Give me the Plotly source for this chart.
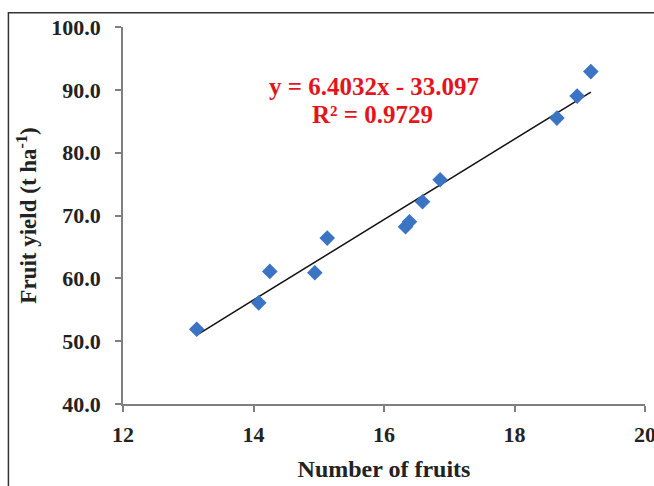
import plotly.graph_objects as go

# Fruit count vs. yield observations
fruit_number = [13.13, 14.08, 14.25, 14.94, 15.13, 16.33, 16.39, 16.59, 16.86, 18.65, 18.96, 19.17]
fruit_yield = [51.9, 56.1, 61.1, 60.9, 66.4, 68.2, 69.0, 72.2, 75.7, 85.5, 89.0, 92.9]

# Linear trend coefficients
slope = 6.4032
intercept = -33.097
r_squared = 0.9729

x_ticks = [12, 14, 16, 18, 20]
y_ticks = [40, 50, 60, 70, 80, 90, 100]

trend_x = [min(fruit_number), max(fruit_number)]
trend_y = [slope * v + intercept for v in trend_x]

font_family = "Liberation Serif, Times New Roman, serif"

fig = go.Figure()
fig.add_trace(go.Scatter(
    x=trend_x, y=trend_y, mode="lines",
    line=dict(color="#111111", width=1.5), showlegend=False, hoverinfo="skip",
))
fig.add_trace(go.Scatter(
    x=fruit_number, y=fruit_yield, mode="markers",
    marker=dict(symbol="diamond", size=12, color="#3A74C3"),
    showlegend=False,
))

axis_common = dict(
    showgrid=False, zeroline=False, showline=True, linecolor="#7f7f7f", linewidth=1.5,
    ticks="outside", ticklen=6, tickcolor="#7f7f7f", tickwidth=1.5, automargin=False,
    ticklabeloverflow="allow",
    tickfont=dict(family=font_family, size=22, color="#222222"),
)

fig.update_xaxes(
    range=[12, 20], tickvals=x_ticks, ticktext=[f"<b>{t}</b>" for t in x_ticks],
    ticklabelstandoff=4,
    title=dict(text="<b>Number of fruits</b>", font=dict(family=font_family, size=24, color="#222222"), standoff=14),
    **axis_common,
)
fig.update_yaxes(
    range=[40, 100], tickvals=y_ticks, ticktext=[f"<b>{t:.1f}</b>" for t in y_ticks],
    ticklabelstandoff=10,
    title=dict(text="<b>Fruit yield (t ha<sup>-1</sup>)</b>", font=dict(family=font_family, size=23, color="#222222"), standoff=8),
    **axis_common,
)

eq_text = f"<b>y = {slope:.4f}x - {abs(intercept):.3f}</b>"
r2_text = f"<b>R² = {r_squared:.4f}</b>"
fig.add_annotation(x=15.85, y=90.6, xref="x", yref="y", text=eq_text, showarrow=False,
                   font=dict(family=font_family, size=25, color="#E3141B"))
fig.add_annotation(x=15.82, y=86.1, xref="x", yref="y", text=r2_text, showarrow=False,
                   font=dict(family=font_family, size=25, color="#E3141B"))

# Outer chart frame
fig.add_shape(type="rect", xref="paper", yref="paper",
              x0=-0.2195, x1=1.03, y0=-0.23, y1=1.038,
              line=dict(color="#333333", width=1.5), fillcolor="rgba(0,0,0,0)", layer="below")

fig.update_layout(
    width=654, height=486,
    margin=dict(l=123, r=9, t=27, b=82),
    paper_bgcolor="white", plot_bgcolor="white",
)

fig.write_html("out.html")
